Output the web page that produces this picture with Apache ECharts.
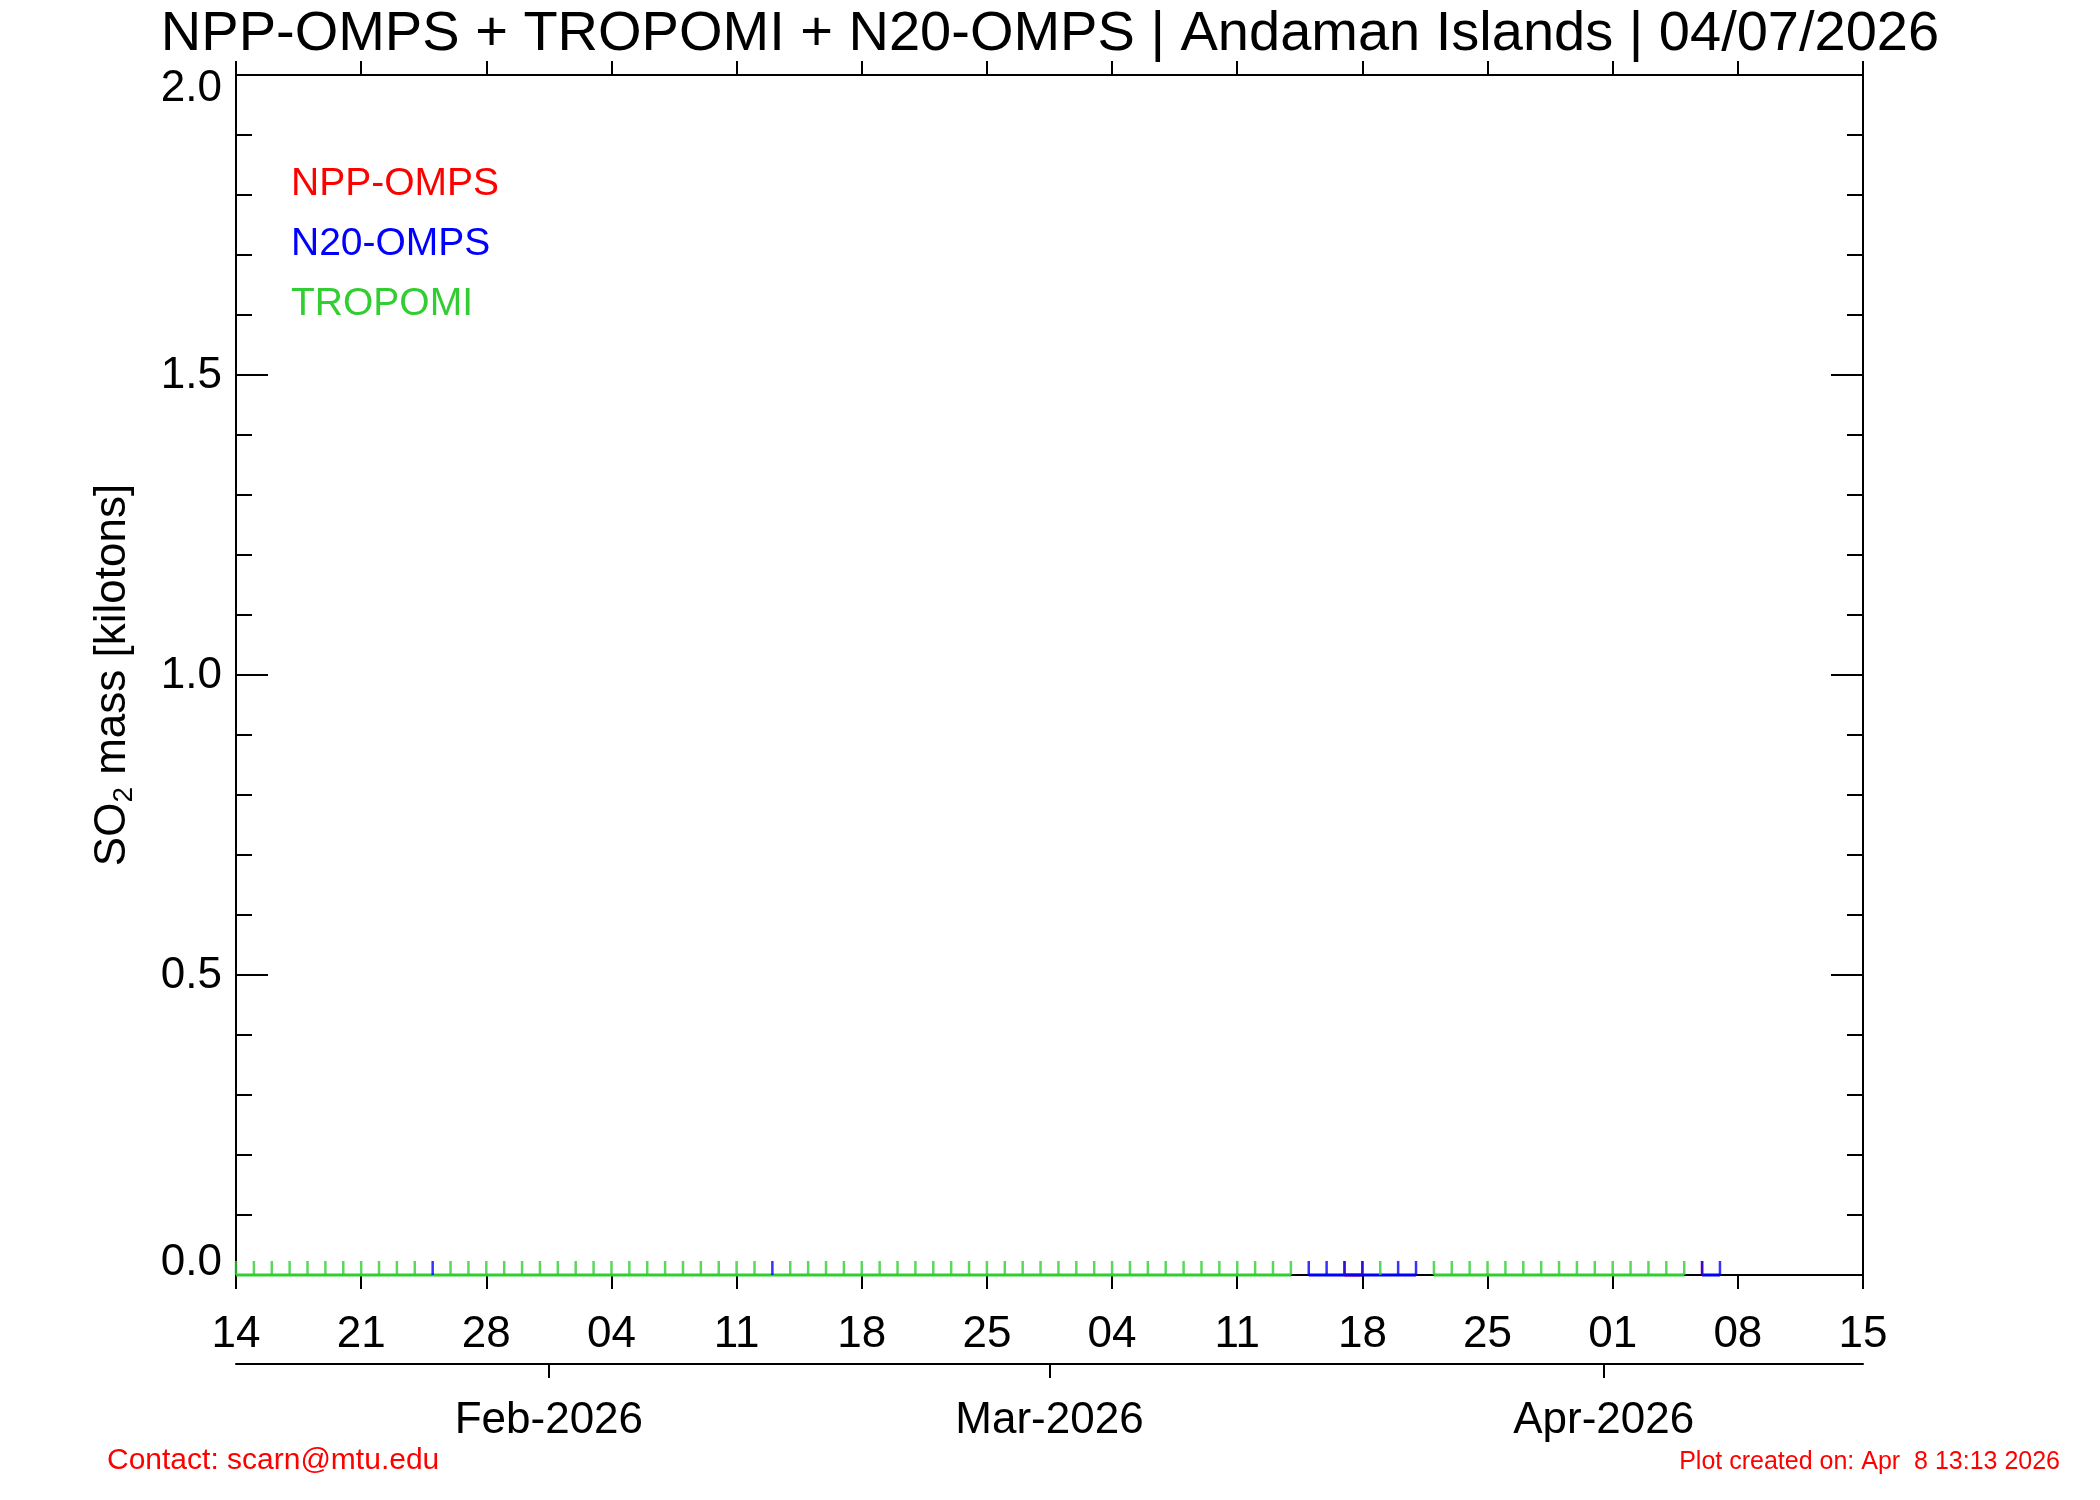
<!DOCTYPE html>
<html><head><meta charset="utf-8">
<script src="https://cdn.jsdelivr.net/npm/echarts@6/dist/echarts.min.js"></script>
<style>html,body{margin:0;padding:0;background:#fff}#c{width:2100px;height:1500px}</style>
</head><body><div id="c"></div>
<script>
// ---- data ----
const startDate = '2026-01-14';          // first plotted day (axis origin)
const axisDays = 91;                     // 2026-01-14 .. 2026-04-15
const weekStep = 7;
const yTicks = [0, 0.5, 1.0, 1.5, 2.0];
const monthStarts = ['2026-02-01', '2026-03-01', '2026-04-01'];
const monthLabels = ['Feb-2026', 'Mar-2026', 'Apr-2026'];
const seriesNames = ['NPP-OMPS', 'N20-OMPS', 'TROPOMI'];
const seriesColors = ['#ff0000', '#0000ff', '#32cd32'];
// daily SO2 mass [kt], one value per day from 2026-01-14 (null = no observation)
const tropomi = [
  0,0,0,0,0,0,0,
  0,0,0,0,null,0,0,
  0,0,0,0,0,0,0,
  0,0,0,0,0,0,0,
  0,0,null,0,0,0,0,
  0,0,0,0,0,0,0,
  0,0,0,0,0,0,0,
  0,0,0,0,0,0,0,
  0,0,0,0,null,null,null,
  null,0,null,null,0,0,0,
  0,0,0,0,0,0,0,
  0,0,0,0,0,null,null
];
const n20 = [
  null,null,null,null,null,null,null,
  null,null,null,null,0,null,null,
  null,null,null,null,null,null,null,
  null,null,null,null,null,null,null,
  null,null,0,null,null,null,null,
  null,null,null,null,null,null,null,
  null,null,null,null,null,null,null,
  null,null,null,null,null,null,null,
  null,null,null,null,0,0,0,
  0,null,0,0,null,null,null,
  null,null,null,null,null,null,null,
  null,null,null,null,null,0,0
];
const npp = [
  null,null,null,null,null,null,null,
  null,null,null,null,null,null,null,
  null,null,null,null,null,null,null,
  null,null,null,null,null,null,null,
  null,null,null,null,null,null,null,
  null,null,null,null,null,null,null,
  null,null,null,null,null,null,null,
  null,null,null,null,null,null,null,
  null,null,null,null,null,null,0,
  0,null,null,null,null,null,null,
  null,null,null,null,null,null,null,
  null,null,null,null,null,0,null
];

// ---- build ----
const DAY = 86400000;
const t0 = Date.parse(startDate + 'T12:00:00Z');
const monthPos = monthStarts.map(d => (Date.parse(d + 'T00:00:00Z') - t0) / DAY);
const FONT = '"Liberation Sans", Arial, Helvetica, sans-serif';

function dayLabel(v) {
  const d = new Date(t0 + Math.round(v) * DAY);
  return String(d.getUTCDate()).padStart(2, '0');
}
function stems(arr) {
  const out = [];
  arr.forEach((v, i) => { if (v !== null) out.push([i, v]); });
  return out;
}
function baseline(arr) {
  const out = [];
  let last = null;
  arr.forEach((v, i) => {
    if (v === null) return;
    if (last !== null && i - last > 2) out.push([last + 0.5, '-']);
    out.push([i, v]);
    last = i;
  });
  return out;
}
const dataSets = [npp, n20, tropomi];

const series = [];
dataSets.forEach((arr, k) => {
  series.push({
    name: seriesNames[k], type: 'line', data: baseline(arr), showSymbol: false,
    clip: false, connectNulls: false, z: 2 + k * 0.1, silent: true,
    lineStyle: { color: seriesColors[k], width: 3 }, itemStyle: { color: seriesColors[k] }
  });
  series.push({
    name: seriesNames[k], type: 'scatter', data: stems(arr), symbol: 'rect',
    symbolSize: [2.5, 14], symbolOffset: [0, -7], clip: false, z: 4 + k * 0.1, silent: true,
    itemStyle: { color: seriesColors[k] }
  });
});

const black = { color: '#000', width: 2 };
const yLabel = {
  fontSize: 44, fontFamily: FONT, color: '#000', margin: 14,
  formatter: v => v === yTicks[0] ? '{bot|' + v.toFixed(1) + '}' :
                  v === yTicks[yTicks.length - 1] ? '{top|' + v.toFixed(1) + '}' : '{n|' + v.toFixed(1) + '}',
  rich: {
    n: { fontSize: 44, fontFamily: FONT, padding: [2, 0, 0, 0] },
    top: { fontSize: 44, fontFamily: FONT, padding: [28, 0, 0, 0] },
    bot: { fontSize: 44, fontFamily: FONT, padding: [0, 0, 24, 0] }
  }
};

const option = {
  backgroundColor: '#fff',
  animation: false,
  title: [
    { text: 'NPP-OMPS + TROPOMI + N20-OMPS | Andaman Islands | 04/07/2026', left: 'center', top: 7, padding: 0,
      textStyle: { fontSize: 56, fontWeight: 'normal', fontFamily: FONT, color: '#000', lineHeight: 56 } },
    { text: 'Contact: scarn@mtu.edu', left: 107, top: 1446, padding: 0,
      textStyle: { fontSize: 30, fontWeight: 'normal', fontFamily: FONT, color: '#ff0000', lineHeight: 30 } },
    { text: 'Plot created on: Apr  8 13:13 2026', right: 40, top: 1450, padding: 0,
      textStyle: { fontSize: 25, fontWeight: 'normal', fontFamily: FONT, color: '#ff0000', lineHeight: 25 } }
  ],
  legend: {
    orient: 'vertical', left: 286, top: 164, padding: 0, itemGap: 20, itemWidth: 0, itemHeight: 10,
    selectedMode: false,
    textStyle: { fontSize: 39, fontFamily: FONT, lineHeight: 40 },
    data: seriesNames.map((n, k) => ({ name: n, icon: 'none', textStyle: { color: seriesColors[k] } }))
  },
  grid: { left: 236, right: 237, top: 75, bottom: 225, containLabel: false },
  xAxis: [
    { type: 'value', position: 'bottom', min: 0, max: axisDays, interval: weekStep,
      axisLine: { show: true, lineStyle: black, onZero: false },
      axisTick: { show: true, inside: false, length: 14, lineStyle: black },
      axisLabel: { fontSize: 44, fontFamily: FONT, color: '#000', margin: 38, formatter: dayLabel,
                   showMinLabel: true, showMaxLabel: true },
      splitLine: { show: false } },
    { type: 'value', position: 'top', min: 0, max: axisDays, interval: weekStep,
      axisLine: { show: true, lineStyle: black, onZero: false },
      axisTick: { show: true, inside: false, length: 14, lineStyle: black },
      axisLabel: { show: false }, splitLine: { show: false } },
    { type: 'value', position: 'bottom', offset: 89, min: 0, max: axisDays,
      axisLine: { show: true, lineStyle: black, onZero: false },
      axisTick: { show: true, inside: false, length: 14, lineStyle: black, customValues: monthPos },
      axisLabel: { fontSize: 44, fontFamily: FONT, color: '#000', margin: 35, customValues: monthPos,
                   formatter: v => { const i = monthPos.findIndex(p => Math.abs(p - v) < 1e-6); return i >= 0 ? monthLabels[i] : ''; } },
      splitLine: { show: false } }
  ],
  yAxis: [
    { type: 'value', position: 'left', min: yTicks[0], max: yTicks[yTicks.length - 1], interval: 0.5,
      name: '{a|SO}{s|2}{a| mass [kilotons]}', nameLocation: 'middle', nameRotate: 90, nameGap: 98,
      nameTextStyle: { fontFamily: FONT, color: '#000',
        rich: { a: { fontSize: 44, fontFamily: FONT, lineHeight: 50 },
                s: { fontSize: 28, fontFamily: FONT, lineHeight: 20, verticalAlign: 'bottom' } } },
      axisLine: { show: true, lineStyle: black, onZero: false },
      axisTick: { show: true, inside: true, length: 32, lineStyle: black },
      minorTick: { show: true, splitNumber: 5, length: 16, lineStyle: black },
      axisLabel: yLabel, splitLine: { show: false }, minorSplitLine: { show: false } },
    { type: 'value', position: 'right', min: yTicks[0], max: yTicks[yTicks.length - 1], interval: 0.5,
      axisLine: { show: true, lineStyle: black, onZero: false },
      axisTick: { show: true, inside: true, length: 32, lineStyle: black },
      minorTick: { show: true, splitNumber: 5, length: 16, lineStyle: black },
      axisLabel: { show: false }, splitLine: { show: false } }
  ],
  series: series
};
const chart = echarts.init(document.getElementById('c'), null, { renderer: 'canvas' });
chart.setOption(option);
</script></body></html>
